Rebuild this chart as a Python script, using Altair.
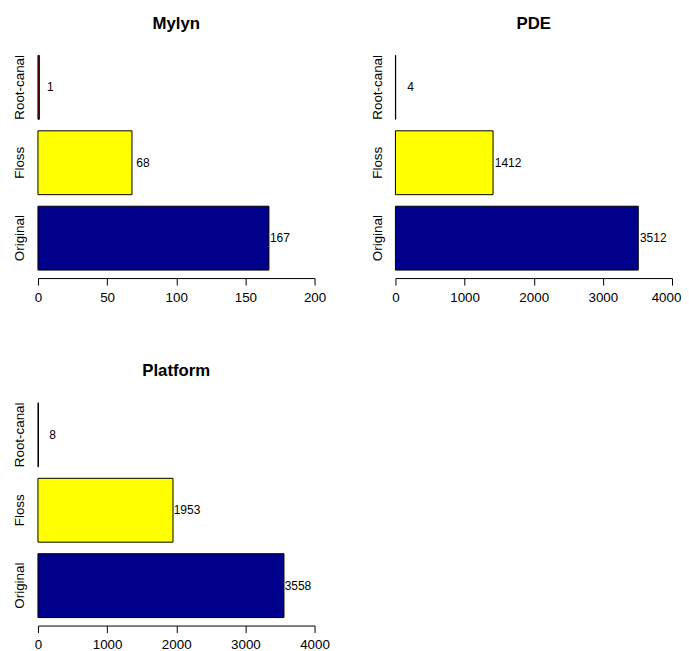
import altair as alt
import pandas as pd

categories = ["Original", "Floss", "Root-canal"]
order_top_down = ["Root-canal", "Floss", "Original"]
mylyn = [167, 68, 1]
pde = [3512, 1412, 4]
platform = [3558, 1953, 8]
ticks_small = [0, 50, 100, 150, 200]
ticks_large = [0, 1000, 2000, 3000, 4000]
colors = ["#00008B", "#FFFF00", "#8B0000"]

FONT = "Liberation Sans"


def panel(title, values, xmax, ticks, dx, last_shift=0):
    df = pd.DataFrame({"method": categories, "count": values})
    y = alt.Y(
        "method:N",
        sort=order_top_down,
        scale=alt.Scale(paddingInner=0.153, paddingOuter=0.106),
        axis=alt.Axis(
            title=None, labelAngle=-90, labelAlign="center",
            labelBaseline="alphabetic", ticks=False, domain=False,
            tickSize=0, labelPadding=14, labelFontSize=13.4,
            labelFont=FONT, labelColor="black",
        ),
    )
    axis_kw = dict(
        title=None, values=ticks, format="d", grid=False,
        domainColor="black", tickColor="black", tickSize=7,
        labelPadding=5, labelFontSize=13.4, labelFont=FONT,
        labelColor="black", labelFlush=False, labelOverlap=False,
    )
    if last_shift:
        axis_kw["labelOffset"] = alt.condition(
            f"datum.value == {xmax}", alt.value(last_shift), alt.value(0)
        )
    x = alt.X(
        "count:Q",
        scale=alt.Scale(domain=[0, xmax], nice=False, zero=True),
        axis=alt.Axis(**axis_kw),
    )
    bars = alt.Chart(df).mark_bar(stroke="black", strokeWidth=1).encode(
        x=x,
        y=y,
        color=alt.Color(
            "method:N",
            scale=alt.Scale(domain=categories, range=colors),
            legend=None,
        ),
    )
    text = alt.Chart(df).mark_text(
        align="center", baseline="middle", dx=dx, fontSize=12,
        font=FONT, color="black",
    ).encode(
        x=alt.X("count:Q"),
        y=alt.Y("method:N", sort=order_top_down),
        text=alt.Text("count:Q"),
    )
    return alt.layer(bars, text).properties(
        width=277,
        height=231,
        title=alt.TitleParams(
            title, fontSize=16.8, fontWeight="bold", font=FONT,
            anchor="middle", frame="group", offset=2,
            baseline="alphabetic", color="black",
        ),
    )


p1 = panel("Mylyn", mylyn, 200, ticks_small, 11)
p2 = panel("PDE", pde, 4000, ticks_large, 15, last_shift=-6)
p3 = panel("Platform", platform, 4000, ticks_large, 14)

chart = alt.vconcat(
    alt.hconcat(p1, p2, spacing=43),
    p3,
    spacing=59,
).properties(
    padding={"left": 4, "top": 7, "right": 0, "bottom": 0}
).configure_view(stroke=None)

chart.save("out.html", embed_options={"renderer": "svg", "actions": False})
